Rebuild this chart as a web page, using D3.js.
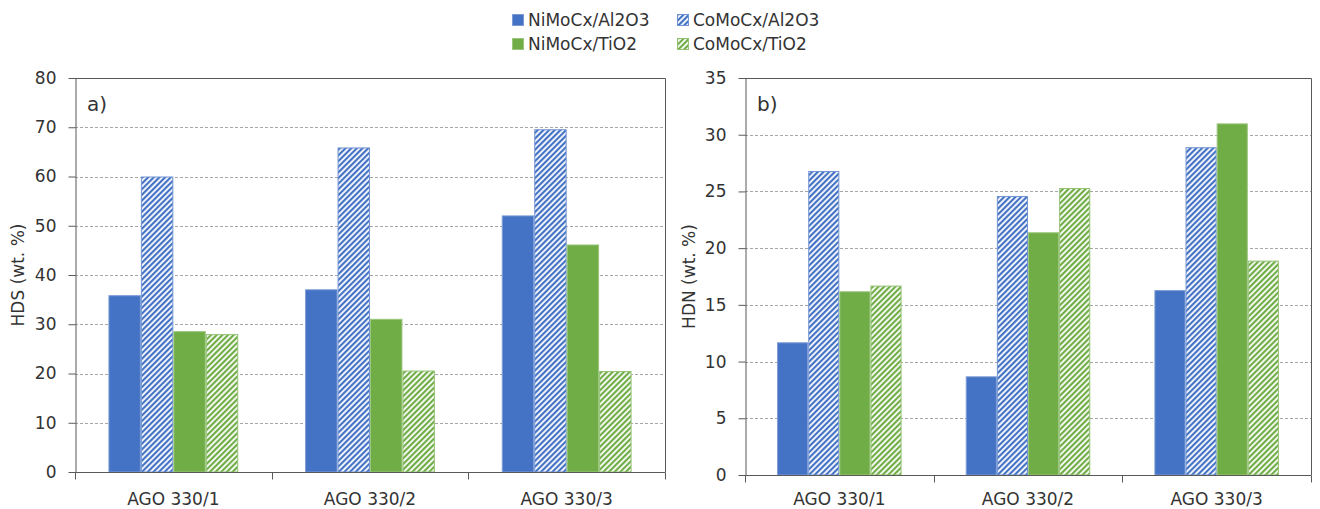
<!DOCTYPE html>
<html>
<head>
<meta charset="utf-8">
<script src="https://cdn.jsdelivr.net/npm/d3@7"></script>
<style>
  html, body { margin: 0; padding: 0; background: #fff; }
  svg { display: block; font-family: "DejaVu Sans", Verdana, sans-serif; }
</style>
</head>
<body>
<svg id="chart" width="1320" height="509"></svg>
<script>
// Feed samples and catalyst series
const categories = ["AGO 330/1", "AGO 330/2", "AGO 330/3"];
const seriesNames = ["NiMoCx/Al2O3", "CoMoCx/Al2O3", "NiMoCx/TiO2", "CoMoCx/TiO2"];

// HDS conversion (wt. %)
const hdsNiMoAl = [35.9, 37.1, 52.1];
const hdsCoMoAl = [60.0, 65.9, 69.6];
const hdsNiMoTi = [28.6, 31.1, 46.2];
const hdsCoMoTi = [28.0, 20.6, 20.5];

// HDN conversion (wt. %)
const hdnNiMoAl = [11.7, 8.7, 16.3];
const hdnCoMoAl = [26.8, 24.6, 28.9];
const hdnNiMoTi = [16.2, 21.4, 31.0];
const hdnCoMoTi = [16.7, 25.3, 18.9];

// Axis ticks
const hdsTicks = [0, 10, 20, 30, 40, 50, 60, 70, 80];
const hdnTicks = [0, 5, 10, 15, 20, 25, 30, 35];

const blue = "#4472C4", green = "#70AD47";
const seriesStyle = [
  { color: blue, hatch: false },
  { color: blue, hatch: true },
  { color: green, hatch: false },
  { color: green, hatch: true }
];
const textColor = "#333333";
const axisColor = "#595959";
const categoryLabelY = 505;

const svg = d3.select("#chart");
const defs = svg.append("defs");

// Diagonal stripe fills for the CoMo series
function stripe(id, color) {
  const p = defs.append("pattern")
    .attr("id", id)
    .attr("patternUnits", "userSpaceOnUse")
    .attr("width", 4).attr("height", 4)
    .attr("patternTransform", "rotate(45)");
  p.append("rect").attr("width", 4).attr("height", 4).attr("fill", "#fff");
  p.append("rect").attr("width", 2.2).attr("height", 4).attr("fill", color);
}
stripe("hatch-blue", blue);
stripe("hatch-green", green);

function fillFor(s) {
  if (!s.hatch) return s.color;
  return s.color === blue ? "url(#hatch-blue)" : "url(#hatch-green)";
}
function strokeFor(s) {
  return s.hatch ? d3.interpolateRgb(s.color, "#fff")(0.25) : d3.interpolateRgb(s.color, "#fff")(0.3);
}

function drawPanel(cfg) {
  const g = svg.append("g");

  const y = d3.scaleLinear().domain([0, cfg.max]).range([cfg.bottom, cfg.top]);
  const x0 = d3.scaleBand().domain(categories).range([cfg.left, cfg.right]).padding(0);
  const bw = x0.bandwidth();
  const x1 = d3.scaleBand().domain(seriesNames).range([bw * 0.17, bw * 0.83]).padding(0);

  // dashed gridlines
  g.append("g").selectAll("line")
    .data(cfg.ticks.filter(t => t > 0 && t < cfg.max))
    .join("line")
    .attr("x1", cfg.left).attr("x2", cfg.right)
    .attr("y1", d => Math.round(y(d)) + 0.5).attr("y2", d => Math.round(y(d)) + 0.5)
    .attr("stroke", "#a6a6a6").attr("stroke-width", 1)
    .attr("stroke-dasharray", "3,2");

  // bars
  const rows = categories.map((c, i) => ({ cat: c, vals: cfg.series.map(s => s[i]) }));
  const grp = g.append("g").selectAll("g").data(rows).join("g")
    .attr("transform", d => `translate(${x0(d.cat)},0)`);
  grp.selectAll("rect")
    .data(d => d.vals.map((v, k) => ({ v, k })))
    .join("rect")
    .attr("x", d => x1(seriesNames[d.k]) + 0.5)
    .attr("width", x1.bandwidth() - 1)
    .attr("y", d => y(d.v) + 0.5)
    .attr("height", d => cfg.bottom - y(d.v) - 0.5)
    .attr("fill", d => fillFor(seriesStyle[d.k]))
    .attr("stroke", d => strokeFor(seriesStyle[d.k]))
    .attr("stroke-width", 1);

  // frame: top and right edges
  g.append("path")
    .attr("d", `M${cfg.left},${cfg.top + 0.5}H${cfg.right + 0.5}V${cfg.bottom}`)
    .attr("fill", "none").attr("stroke", axisColor).attr("stroke-width", 1);

  // y axis
  const yAxis = d3.axisLeft(y).tickValues(cfg.ticks).tickSize(7).tickPadding(12).tickSizeOuter(0);
  const ya = g.append("g").attr("transform", `translate(${cfg.left + 0.5},0)`).call(yAxis);
  ya.select(".domain").attr("stroke", axisColor);
  ya.selectAll(".tick line").attr("stroke", axisColor);
  ya.selectAll(".tick text").attr("fill", textColor).attr("font-size", 17)
    .attr("font-family", "DejaVu Sans, Verdana, sans-serif");

  // x axis with group boundary ticks
  const xa = g.append("g").attr("transform", `translate(0,${cfg.bottom + 0.5})`);
  xa.append("line").attr("x1", cfg.left).attr("x2", cfg.right + 0.5)
    .attr("stroke", axisColor);
  const bounds = categories.map(c => x0(c)).concat([cfg.right]);
  xa.selectAll("line.b").data(bounds).join("line").attr("class", "b")
    .attr("x1", d => Math.round(d) + 0.5).attr("x2", d => Math.round(d) + 0.5)
    .attr("y1", 0).attr("y2", 7).attr("stroke", axisColor);
  g.append("g").selectAll("text").data(categories).join("text")
    .attr("x", d => x0(d) + bw / 2).attr("y", categoryLabelY)
    .attr("text-anchor", "middle").attr("fill", textColor).attr("font-size", 17)
    .text(d => d);

  // y title
  g.append("text")
    .attr("transform", `translate(${cfg.titleX},${(cfg.top + cfg.bottom) / 2}) rotate(-90)`)
    .attr("text-anchor", "middle").attr("fill", textColor).attr("font-size", 17)
    .text(cfg.title);

  // panel letter
  g.append("text").attr("x", cfg.left + 12).attr("y", cfg.top + 33)
    .attr("fill", textColor).attr("font-size", 20).text(cfg.letter);
}

drawPanel({
  left: 75, right: 665, top: 78, bottom: 472, max: 80, ticks: hdsTicks,
  series: [hdsNiMoAl, hdsCoMoAl, hdsNiMoTi, hdsCoMoTi],
  title: "HDS (wt. %)", titleX: 24, letter: "a)"
});
drawPanel({
  left: 745, right: 1311, top: 78, bottom: 475, max: 35, ticks: hdnTicks,
  series: [hdnNiMoAl, hdnCoMoAl, hdnNiMoTi, hdnCoMoTi],
  title: "HDN (wt. %)", titleX: 695, letter: "b)"
});

// legend, two columns by two rows
const legendPos = [
  { x: 512, y: 14 }, { x: 677, y: 14 },
  { x: 512, y: 38 }, { x: 677, y: 38 }
];
const lg = svg.append("g").selectAll("g").data(seriesNames).join("g")
  .attr("transform", (d, i) => `translate(${legendPos[i].x},${legendPos[i].y})`);
lg.append("rect").attr("x", 0.5).attr("y", 0.5).attr("width", 11).attr("height", 11)
  .attr("fill", (d, i) => fillFor(seriesStyle[i]))
  .attr("stroke", (d, i) => strokeFor(seriesStyle[i]));
lg.append("text").attr("x", 16).attr("y", 12).attr("fill", textColor).attr("font-size", 17)
  .text(d => d);
</script>
</body>
</html>
